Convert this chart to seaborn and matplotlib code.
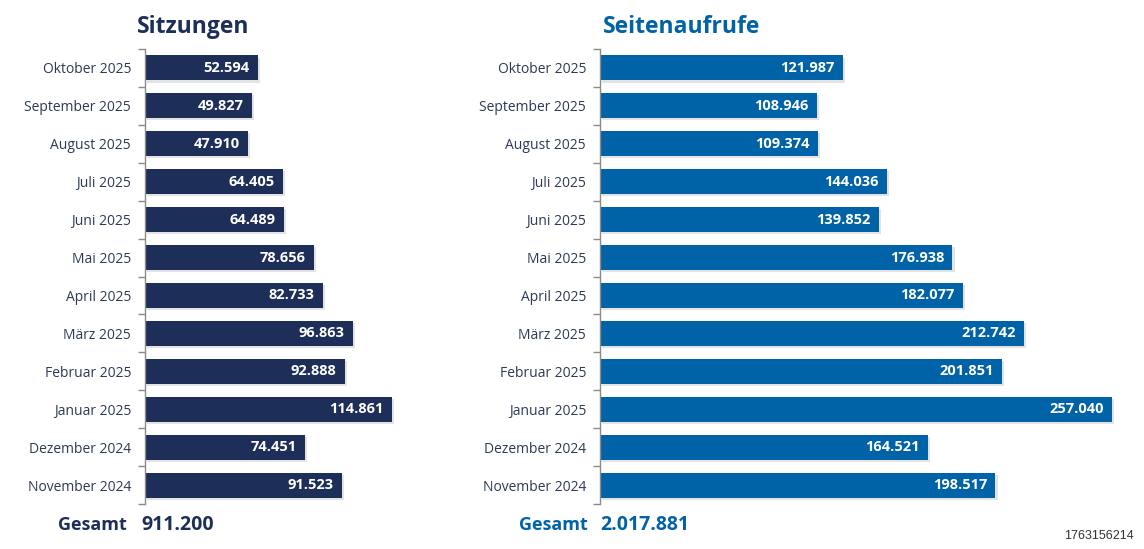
import matplotlib
matplotlib.use("Agg")
import matplotlib.pyplot as plt
import matplotlib.patheffects as pe
from matplotlib.ticker import FixedLocator
import numpy as np
import pandas as pd
import seaborn as sns

# Data (top to bottom as shown)
months = ["Oktober 2025", "September 2025", "August 2025", "Juli 2025", "Juni 2025",
          "Mai 2025", "April 2025", "März 2025", "Februar 2025", "Januar 2025",
          "Dezember 2024", "November 2024"]
sitzungen = [52594, 49827, 47910, 64405, 64489, 78656, 82733, 96863, 92888, 114861, 74451, 91523]
seitenaufrufe = [121987, 108946, 109374, 144036, 139852, 176938, 182077, 212742, 201851,
                 257040, 164521, 198517]
total_sitzungen = 911200
total_seitenaufrufe = 2017881
stamp = "1763156214"

NAVY = "#1d2f58"
BLUE = "#0062a7"
LABEL = "#2b3a55"


def de(n):
    return f"{n:,}".replace(",", ".")


sns.set_theme(style="white")
plt.rcParams["font.family"] = ["Open Sans", "DejaVu Sans"]

fig = plt.figure(figsize=(11.44, 5.49), dpi=100)

W, H = 1144, 549
top_px, bot_px = 49, 504


def panel(x0, x1, xmax, values, color, title, title_x, total, gesamt_x, total_x):
    ax = fig.add_axes([x0 / W, 1 - bot_px / H, (x1 - x0) / W, (bot_px - top_px) / H])
    df = pd.DataFrame({"month": months, "value": values})
    sns.barplot(data=df, x="value", y="month", orient="h", color=color,
                saturation=1, width=0.66, linewidth=0, ax=ax)
    for bar in ax.patches:
        bar.set_path_effects([pe.SimplePatchShadow(offset=(1.5, -1.5), alpha=0.18,
                                                   shadow_rgbFace="#666666"),
                              pe.Normal()])
    ax.set_xlim(0, xmax)
    ax.set_ylim(len(months) - 0.5, -0.5)
    ax.set_xlabel("")
    ax.set_ylabel("")
    ax.set_xticks([])
    for s in ["top", "right", "bottom"]:
        ax.spines[s].set_visible(False)
    ax.spines["left"].set_color("#8a8a8a")
    ax.spines["left"].set_linewidth(1.0)
    ax.tick_params(axis="y", which="major", length=0, pad=10, labelsize=10, labelcolor=LABEL)
    ax.yaxis.set_minor_locator(FixedLocator(np.arange(-0.5, len(months), 1.0)))
    ax.tick_params(axis="y", which="minor", length=5, width=1, color="#8a8a8a", left=True)
    for i, v in enumerate(values):
        ax.annotate(de(v), xy=(v, i), xytext=(-6, 0), textcoords="offset points",
                    ha="right", va="center", color="white", fontsize=10.5, fontweight="bold")
    fig.text(title_x / W, 1 - 27 / H, title, ha="left", va="center", fontsize=16.5,
             fontweight="bold", color=color)
    fig.text(gesamt_x / W, 1 - 525 / H, "Gesamt", ha="right", va="center", fontsize=13,
             fontweight="bold", color=color)
    fig.text(total_x / W, 1 - 525 / H, de(total), ha="left", va="center", fontsize=14,
             fontweight="bold", color=color)
    return ax


panel(145, 420, 127970, sitzungen, NAVY, "Sitzungen", 137, total_sitzungen, 127, 141)
panel(600, 1130, 266060, seitenaufrufe, BLUE, "Seitenaufrufe", 603, total_seitenaufrufe, 588, 600)

fig.text(1134 / W, 1 - 536 / H, stamp, ha="right", va="center", fontsize=9,
         color="#333333", family=["Liberation Sans", "DejaVu Sans"])

fig.savefig("out.png", dpi=100)
